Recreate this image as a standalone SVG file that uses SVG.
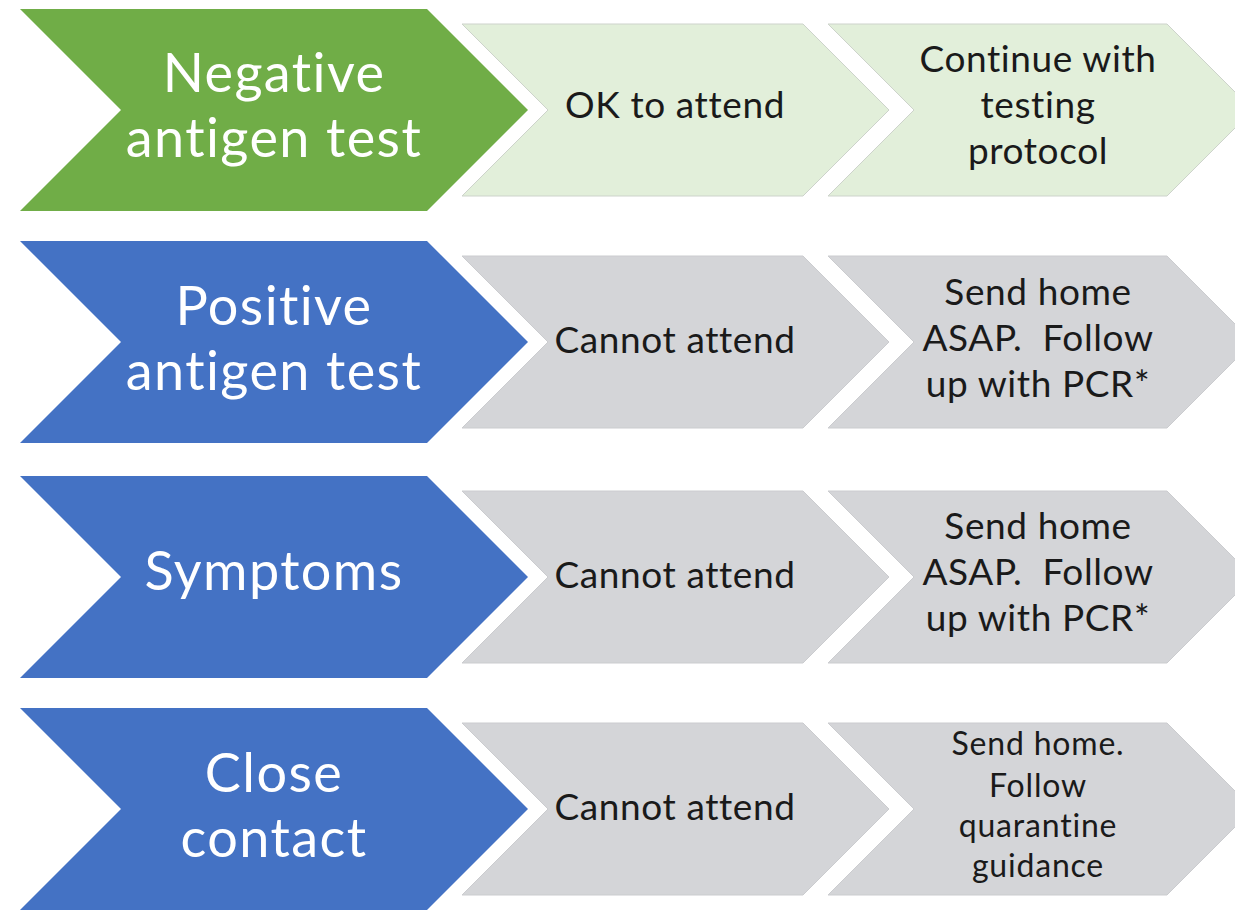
<svg xmlns="http://www.w3.org/2000/svg" width="1235" height="910" viewBox="0 0 1235 910">
  <style>
    .head-green { fill: #70AD47; }
    .head-blue { fill: #4472C4; }
    .step-green { fill: #E2EFDA; stroke: #CDD3CB; stroke-width: 1; }
    .step-gray { fill: #D4D5D8; stroke: #CBCCCF; stroke-width: 1; }
    .head-text { font-family: Lato, "Open Sans", "Liberation Sans", sans-serif; font-size: 54px; letter-spacing: 1.4px; fill: #FFFFFF; text-anchor: middle; }
    .step-text { font-family: Lato, "Open Sans", "Liberation Sans", sans-serif; font-size: 37px; letter-spacing: 0.6px; fill: #1A1A1A; text-anchor: middle; }
    .step-small { font-family: Lato, "Open Sans", "Liberation Sans", sans-serif; font-size: 32px; letter-spacing: 0.8px; fill: #1A1A1A; text-anchor: middle; }
  </style>
  <rect width="1235" height="910" fill="#FFFFFF"/>

  <!-- No connectors: the chevrons themselves carry the flow -->
  <g id="connectors"/>

  <!-- Row 1: negative antigen test (centre y = 110) -->
  <g id="row1-head">
    <polygon class="head-green" points="20,9 427,9 528,110 427,211 20,211 121,110"/>
    <text class="head-text" x="274" y="92">Negative</text>
    <text class="head-text" x="274" y="157">antigen test</text>
  </g>
  <g id="row1-step1">
    <polygon class="step-green" points="462,24 803,24 889,110 803,196 462,196 548,110"/>
    <text class="step-text" x="675" y="118">OK to attend</text>
  </g>
  <g id="row1-step2">
    <polygon class="step-green" points="828,24 1167,24 1253,110 1167,196 828,196 914,110"/>
    <text class="step-text" x="1038" y="72">Continue with</text>
    <text class="step-text" x="1038" y="118">testing</text>
    <text class="step-text" x="1038" y="164">protocol</text>
  </g>

  <!-- Row 2: positive antigen test (centre y = 342) -->
  <g id="row2-head">
    <polygon class="head-blue" points="20,241 427,241 528,342 427,443 20,443 121,342"/>
    <text class="head-text" x="274" y="325">Positive</text>
    <text class="head-text" x="274" y="390">antigen test</text>
  </g>
  <g id="row2-step1">
    <polygon class="step-gray" points="462,256 803,256 889,342 803,428 462,428 548,342"/>
    <text class="step-text" x="675" y="353">Cannot attend</text>
  </g>
  <g id="row2-step2">
    <polygon class="step-gray" points="828,256 1167,256 1253,342 1167,428 828,428 914,342"/>
    <text class="step-text" x="1038" y="305">Send home</text>
    <text class="step-text" x="1038" y="351">ASAP.&#160; Follow</text>
    <text class="step-text" x="1038" y="397">up with PCR*</text>
  </g>

  <!-- Row 3: symptoms (centre y = 577) -->
  <g id="row3-head">
    <polygon class="head-blue" points="20,476 427,476 528,577 427,678 20,678 121,577"/>
    <text class="head-text" x="274" y="590">Symptoms</text>
  </g>
  <g id="row3-step1">
    <polygon class="step-gray" points="462,491 803,491 889,577 803,663 462,663 548,577"/>
    <text class="step-text" x="675" y="588">Cannot attend</text>
  </g>
  <g id="row3-step2">
    <polygon class="step-gray" points="828,491 1167,491 1253,577 1167,663 828,663 914,577"/>
    <text class="step-text" x="1038" y="539">Send home</text>
    <text class="step-text" x="1038" y="585">ASAP.&#160; Follow</text>
    <text class="step-text" x="1038" y="631">up with PCR*</text>
  </g>

  <!-- Row 4: close contact (centre y = 809) -->
  <g id="row4-head">
    <polygon class="head-blue" points="20,708 427,708 528,809 427,910 20,910 121,809"/>
    <text class="head-text" x="274" y="792">Close</text>
    <text class="head-text" x="274" y="857">contact</text>
  </g>
  <g id="row4-step1">
    <polygon class="step-gray" points="462,723 803,723 889,809 803,895 462,895 548,809"/>
    <text class="step-text" x="675" y="820">Cannot attend</text>
  </g>
  <g id="row4-step2">
    <polygon class="step-gray" points="828,723 1167,723 1253,809 1167,895 828,895 914,809"/>
    <text class="step-small" x="1038" y="755">Send home.</text>
    <text class="step-small" x="1038" y="797">Follow</text>
    <text class="step-small" x="1038" y="837">quarantine</text>
    <text class="step-small" x="1038" y="877">guidance</text>
  </g>
</svg>
